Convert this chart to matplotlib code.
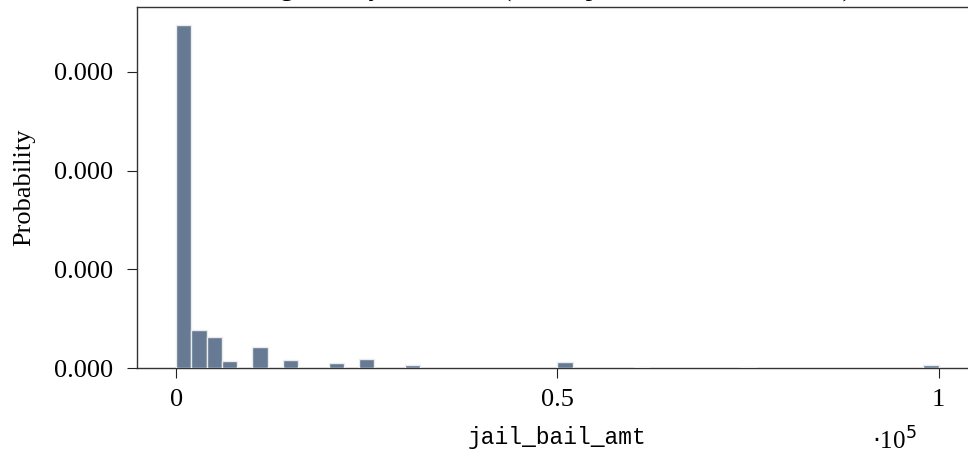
import numpy as np
import matplotlib
matplotlib.use("Agg")
import matplotlib.pyplot as plt
from matplotlib.ticker import FuncFormatter

# histogram of jail_bail_amt, 50 bins of width 2000 from 0 to 100000
bin_width = 2000
bin_lefts = np.arange(0, 100000, bin_width)
# densities in units of 1e-4
dens_1e4 = [3.475, 0.39, 0.314, 0.071, 0.0, 0.217, 0.0, 0.078, 0.0, 0.0,
            0.05, 0.0, 0.095, 0.0, 0.0, 0.027, 0.0, 0.004, 0.0, 0.0,
            0.004, 0.0, 0.0, 0.0, 0.0, 0.065, 0.0, 0.0, 0.0, 0.0,
            0.006, 0.0, 0.0, 0.0, 0.0, 0.0, 0.0, 0.015, 0.0, 0.0,
            0.0, 0.0, 0.0, 0.0, 0.0, 0.0, 0.0, 0.0, 0.0, 0.028]
density = np.array(dens_1e4) * 1e-4
y_ticks = [0, 1e-4, 2e-4, 3e-4]
x_ticks = [0, 50000, 100000]

serif = ["Liberation Serif", "DejaVu Serif"]

fig = plt.figure(figsize=(9.68, 4.57), dpi=100)
ax = fig.add_axes([0.1415, 0.1947, 0.8675, 0.79])

ax.bar(bin_lefts, density, width=bin_width, align="edge",
       color="#667b93", edgecolor="#ebebeb", linewidth=1.0, zorder=3)

ax.set_xlim(-5150, 105000)
ax.set_ylim(0, 3.658e-4)

ax.set_xticks(x_ticks)
ax.xaxis.set_major_formatter(FuncFormatter(lambda v, p: "%g" % (v / 1e5)))
ax.set_yticks(y_ticks)
ax.yaxis.set_major_formatter(FuncFormatter(lambda v, p: "%.3f" % v))

for lab in ax.get_xticklabels() + ax.get_yticklabels():
    lab.set_fontfamily(serif)
    lab.set_fontsize(19)

ax.tick_params(axis="both", direction="out", length=7, width=0.8, color="#222222")
ax.tick_params(axis="x", pad=8)
ax.tick_params(axis="y", pad=10)
for s in ax.spines.values():
    s.set_color("#333333")
    s.set_linewidth(1.0)

ax.set_ylabel("Probability", fontfamily=serif, fontsize=19, labelpad=14)
ax.set_xlabel("jail_bail_amt", fontfamily=["Liberation Mono", "DejaVu Sans Mono"],
              fontsize=16.5, labelpad=11)

fig.text(0.9235, 0.035, r"$\cdot$10$^{5}$", fontfamily=serif, fontsize=18,
         ha="center", va="center")

# title sits mostly above the visible image area
fig.text(0.555, 1.007, "Histogram of jail bail amt (with top 1% of values removed)",
         fontfamily=serif, fontsize=19, ha="center", va="baseline")

fig.savefig("out.png", dpi=100)
